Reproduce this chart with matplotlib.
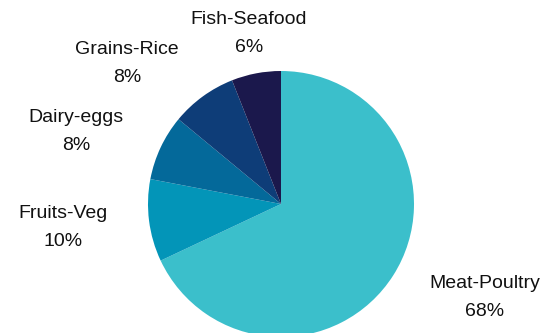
import matplotlib
matplotlib.use("Agg")
import matplotlib.pyplot as plt

categories = ["Meat-Poultry", "Fruits-Veg", "Dairy-eggs", "Grains-Rice", "Fish-Seafood"]
values = [68, 10, 8, 8, 6]
pct_labels = ["68%", "10%", "8%", "8%", "6%"]
colors = ["#3bbfcb", "#0395b8", "#04699a", "#0e3d78", "#1b184c"]

# label anchor positions (pixel layout, origin bottom-left)
label_pos = [(485, 35), (63, 106), (76, 202), (127, 269), (249, 300)]

plt.rcParams['font.family'] = ['Liberation Sans', 'DejaVu Sans']

fig = plt.figure(figsize=(5.43, 3.33), dpi=100)
ax = fig.add_axes([0, 0, 1, 1])

ax.pie(values, colors=colors, startangle=90, counterclock=False,
       center=(281, 129), radius=133, frame=True,
       wedgeprops=dict(linewidth=0))
ax.set_xlim(0, 543)
ax.set_ylim(0, 333)
ax.set_aspect('equal')
ax.axis('off')

for (x, y), name, pct in zip(label_pos, categories, pct_labels):
    ax.text(x, y + 14, name, ha='center', va='center', fontsize=14, color='#111111')
    ax.text(x, y - 14, pct, ha='center', va='center', fontsize=14, color='#111111')

fig.savefig("out.png", dpi=100)
